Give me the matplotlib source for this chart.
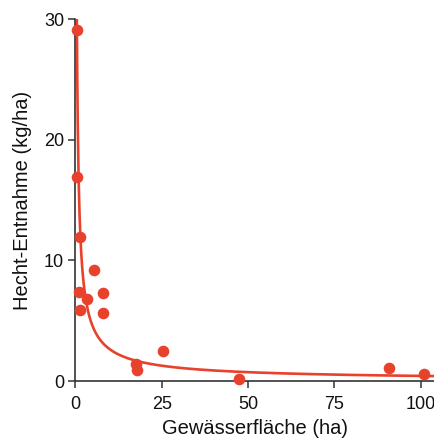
import numpy as np
import matplotlib
matplotlib.use("Agg")
import matplotlib.pyplot as plt

plt.rcParams['font.family'] = ['Liberation Sans', 'DejaVu Sans']

# data
flaeche = [0.5, 0.4, 1.5, 1.1, 3.3, 1.5, 5.4, 8.1, 8.1, 17.6, 17.8, 25.3, 47.4, 90.8, 101.0]
entnahme = [29.1, 16.9, 11.9, 7.4, 6.8, 5.9, 9.2, 7.3, 5.6, 1.4, 0.9, 2.5, 0.15, 1.1, 0.55]

# power-law fit y = a * x^b
fit_a = 16.4
fit_b = -0.795

red = '#e8412c'
axcol = '#333333'
txtcol = '#111111'

fig = plt.figure(figsize=(4.35, 4.42), dpi=100)
ax = fig.add_axes([0.173, 0.138, 0.826, 0.819])

xf = np.linspace(0.46, 104, 800)
ax.plot(xf, fit_a * xf**fit_b, color=red, lw=1.9, zorder=2)
ax.scatter(flaeche, entnahme, s=70, color=red, zorder=3, clip_on=False, linewidths=0)

ax.set_xlim(0, 104)
ax.set_ylim(0, 30)
ax.set_xticks([0, 25, 50, 75, 100])
ax.set_yticks([0, 10, 20, 30])
for s in ['top', 'right']:
    ax.spines[s].set_visible(False)
for s in ['left', 'bottom']:
    ax.spines[s].set_color(axcol)
    ax.spines[s].set_linewidth(1.2)
ax.tick_params(colors=axcol, labelcolor=txtcol, length=5, width=1.1, labelsize=13)
ax.tick_params(axis='x', pad=6)
ax.tick_params(axis='y', pad=3)
ax.set_xlabel('Gewässerfläche (ha)', fontsize=14.5, color=txtcol, labelpad=4)
ax.set_ylabel('Hecht-Entnahme (kg/ha)', fontsize=14.5, color=txtcol, labelpad=9)

fig.savefig('out.png', dpi=100)
